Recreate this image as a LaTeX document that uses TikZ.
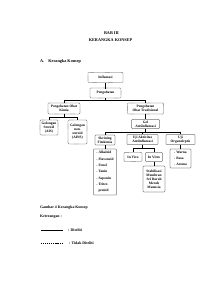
\documentclass[tikz,border=0pt]{standalone}
\usepackage{fontspec}
\setmainfont{Liberation Serif}
\begin{document}
\begin{tikzpicture}[x=0.1cm,y=-0.1cm,
  box/.style={draw, rounded corners=2pt, line width=0.8pt, align=center, inner sep=0pt, font=\fontsize{10}{11.5}\selectfont\bfseries},
  dbox/.style={box, dash pattern=on 1.6pt off 1.2pt},
  lbox/.style={box, align=left, font=\fontsize{10}{18}\selectfont\bfseries},
  conn/.style={line width=0.8pt},
  dconn/.style={conn, dash pattern=on 1.6pt off 1.2pt},
  ldash/.style={line width=0.8pt, dash pattern=on 3pt off 2.5pt},
  head/.style={font=\fontsize{12}{14}\selectfont\bfseries, inner sep=0pt},
  leg/.style={font=\fontsize{11}{13}\selectfont\bfseries, inner sep=0pt, anchor=west}]
\useasboundingbox (0,0) rectangle (212,300);
\fill[white] (0,0) rectangle (212,300);
% headings
\node[head] (t1) at (111.5,33) {BAB III};
\node[head] (t2) at (110.5,40) {KERANGKA KONSEP};
\node[head, anchor=west] (sa) at (40,62) {A.\quad Kerangka Konsep};
% top chain
\node[dbox, minimum width=35mm, minimum height=10mm] (inf) at (105.5,77.5) {Inflamasi};
\node[dbox, minimum width=31mm, minimum height=10mm] (peng) at (105.5,93) {Pengobatan};
\node[dbox, minimum width=32mm, minimum height=11mm] (kimia) at (64,108.5) {Pengobatan Obat\\Kimia};
\node[dbox, minimum width=36mm, minimum height=11mm] (trad) at (145.5,108.5) {Pengobatan\\Obat Tradisional};
\node[dbox, minimum width=18mm, minimum height=15mm] (ais) at (49,127.5) {Golongan\\Steroid\\(AIS)};
\node[dbox, minimum width=19mm, minimum height=24mm] (ains) at (77.5,132) {Golongan\\non-\\steroid\\(AINS)};
\node[box, minimum width=28mm, minimum height=9mm] (gel) at (145.5,124) {Gel\\Antiinflamasi};
\node[box, minimum width=20mm, minimum height=10mm] (skr) at (105,140) {Skrining\\Fitokimia};
\node[box, minimum width=31mm, minimum height=10mm] (uji) at (142.5,139.5) {Uji Aktivitas\\Antiinflamasi};
\node[box, minimum width=29mm, minimum height=10mm] (org) at (180.5,139.5) {Uji\\Organoleptis};
\node[lbox, minimum width=23mm, minimum height=46mm] (skrl) at (105,172) {- Alkaloid\\- Flavonoid\\- Fenol\\- Tanin\\- Saponin\\- Triter-\\\hphantom{- }penoid};
\node[dbox, minimum width=18mm, minimum height=9mm] (vivo) at (133,157) {In Vivo};
\node[box, minimum width=17mm, minimum height=9mm] (vitro) at (154,157) {In Vitro};
\node[box, minimum width=22mm, minimum height=26mm] (stab) at (154,179) {Stabilisasi\\Membran\\Sel Darah\\Merah\\Manusia};
\node[lbox, minimum width=21mm, minimum height=19mm] (orgl) at (180.5,158.5) {- Warna\\- Rasa\\- Aroma};
% connectors
\draw[dconn] (inf) -- (peng);
\coordinate (j1l) at (64,100);
\coordinate (j1r) at (145.5,100);
\draw[dconn] (peng.south) -- (peng.south |- j1l);
\draw[dconn] (kimia.north) -- (j1l) -- (j1r) -- (trad.north);
\coordinate (j2l) at (49,117);
\coordinate (j2r) at (77.5,117);
\draw[dconn] (kimia.south) -- (kimia.south |- j2l);
\draw[dconn] (ais.north) -- (j2l) -- (j2r) -- (ains.north);
\draw[conn] (trad) -- (gel);
\coordinate (j3l) at (105,132);
\coordinate (j3r) at (180.5,132);
\draw[conn] (gel.south) -- (gel.south |- j3l);
\draw[conn] (skr.north) -- (j3l) -- (j3r) -- (org.north);
\draw[conn] (uji.north) -- (uji.north |- j3l);
\draw[conn] (skr) -- (skrl);
\draw[conn] (org) -- (orgl);
\coordinate (j4l) at (133,148.5);
\coordinate (j4r) at (154,148.5);
\draw[conn] (uji.south) -- (uji.south |- j4l);
\draw[conn] (j4l) -- (j4r) -- (vitro.north);
\draw[dconn] (j4l) -- (vivo.north);
\draw[conn] (vitro) -- (stab);
% legend
\node[leg] (cap) at (40,208) {Gambar 4 Kerangka Konsep};
\node[leg] (ket) at (40,217) {Keterangan :};
\coordinate (l1a) at (41,230);
\coordinate (l1b) at (63,230);
\draw[conn] (l1a) -- (l1b);
\node[leg] (lt1) at (68,230) {: Diteliti};
\coordinate (l2a) at (41,243);
\coordinate (l2b) at (63,243);
\draw[ldash] (l2a) -- (l2b);
\node[leg] (lt2) at (69,243) {: Tidak Diteliti};
\end{tikzpicture}
\end{document}
